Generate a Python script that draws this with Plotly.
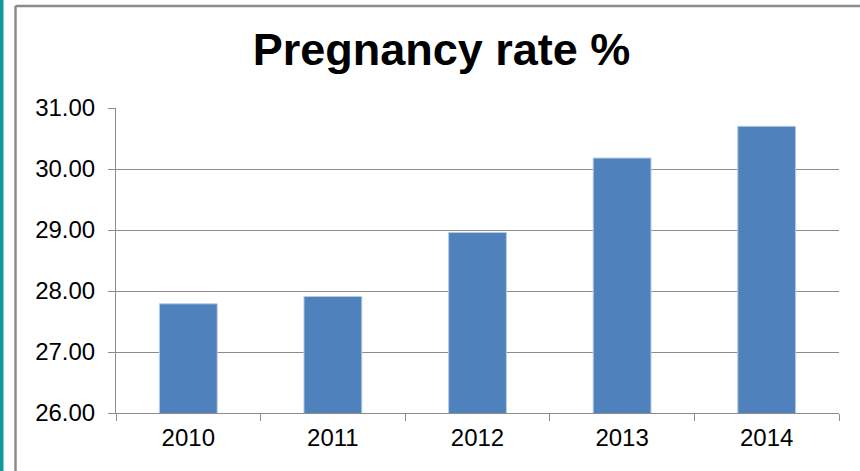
import plotly.graph_objects as go

years = ["2010", "2011", "2012", "2013", "2014"]
rates = [27.79, 27.91, 28.96, 30.18, 30.70]
y_ticks = [26, 27, 28, 29, 30, 31]

W, H = 860, 471
L, R, T, B = 116, 21, 108, 58
pw, ph = W - L - R, H - T - B

def px(x):
    return (x - L) / pw

def py(y):
    return (H - B - y) / ph

fig = go.Figure(go.Bar(
    x=years, y=rates,
    marker=dict(color="#4F81BD", line=dict(color="#B9CDE5", width=1)),
    width=0.4,
))

fig.update_layout(
    width=W, height=H,
    margin=dict(l=L, r=R, t=T, b=B),
    paper_bgcolor="white", plot_bgcolor="white",
    showlegend=False,
    title=dict(text="<b>Pregnancy rate %</b>", x=441.5 / W, xanchor="center",
               y=1 - 49 / H, yanchor="middle",
               font=dict(family="Liberation Sans, Arial", size=45, color="black")),
    font=dict(family="Liberation Sans, Arial", size=24, color="black"),
    xaxis=dict(type="category", showgrid=False, showline=True, linecolor="#8C8C8C",
               linewidth=1, ticks="outside", tickson="boundaries", ticklen=7,
               tickcolor="#8C8C8C", tickfont=dict(size=24), ticklabelstandoff=3),
    yaxis=dict(range=[26, 31], tickvals=y_ticks, tickformat=".2f", showgrid=True,
               gridcolor="#8C8C8C", gridwidth=1, showline=True, linecolor="#8C8C8C",
               linewidth=1, ticks="outside", ticklen=7, tickcolor="#8C8C8C",
               tickfont=dict(size=24), zeroline=False, ticklabelstandoff=8),
    shapes=[
        dict(type="rect", xref="paper", yref="paper", x0=px(0), x1=px(3.5),
             y0=py(0), y1=py(H), fillcolor="#0E9A9A", line=dict(width=0), layer="above"),
        dict(type="line", xref="paper", yref="paper", x0=px(15.5), x1=px(15.5),
             y0=py(6), y1=py(H + 5), line=dict(color="#8C8C8C", width=2.5)),
        dict(type="line", xref="paper", yref="paper", x0=px(15.5), x1=px(W + 5),
             y0=py(6), y1=py(6), line=dict(color="#8C8C8C", width=2.5)),
    ],
)

fig.write_html("out.html", config={"displayModeBar": False},
               post_script="document.body.style.margin='0';document.body.style.padding='0';")
